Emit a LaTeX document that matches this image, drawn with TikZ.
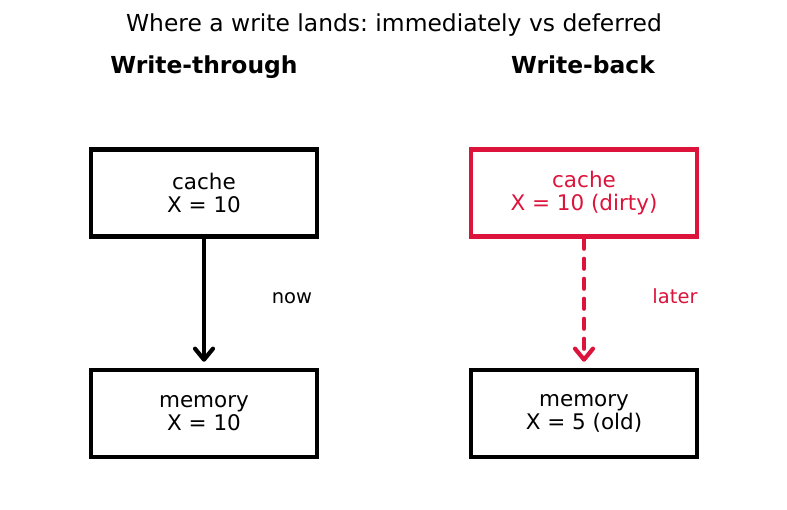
\documentclass[tikz,border=0pt]{standalone}
\usepackage{fontspec}
\setmainfont{DejaVu Sans}
\usetikzlibrary{arrows.meta}
\definecolor{dirtyred}{HTML}{DC143C}
\frenchspacing

\begin{document}
\begin{tikzpicture}[x=1pt,y=-1pt,
    box/.style={draw,line width=4.5pt,minimum width=226pt,minimum height=87pt,
        inner sep=0pt,align=center,font=\fontsize{21.5}{23}\selectfont},
    head/.style={anchor=base,font=\bfseries\fontsize{23.4}{26}\selectfont},
    flow/.style={line width=4.2pt,line cap=round,shorten >=6pt,
        -{Straight Barb[length=11pt,width=18pt,line cap=round,line join=round]}},
    tag/.style={anchor=base,font=\fontsize{19.5}{22}\selectfont}]
    \useasboundingbox (0,0) rectangle (787,510);
    \node[anchor=base,font=\fontsize{23.4}{26}\selectfont] (title) at (394,32) {Where a write lands: immediately vs deferred};
    \node[head] (wt) at (204,74) {Write-through};
    \node[head] (wb) at (583,74) {Write-back};
    % write-through column
    \node[box] (cacheL) at (204,193) {cache\\X = 10};
    \node[box] (memL) at (204,413.5) {memory\\X = 10};
    \draw[flow] (cacheL.south) -- (memL.north);
    \node[tag] (now) at (292,304) {now};
    % write-back column
    \node[box,draw=dirtyred,text=dirtyred] (cacheR) at (584,193) {cache\\X = 10 (dirty)};
    \node[box] (memR) at (584,413.5) {memory\\X = 5 (old)};
    \draw[flow,dirtyred,dash pattern=on 10pt off 10pt] (cacheR.south) -- (memR.north);
    \node[tag,text=dirtyred] (later) at (675,304) {later};
\end{tikzpicture}
\end{document}
